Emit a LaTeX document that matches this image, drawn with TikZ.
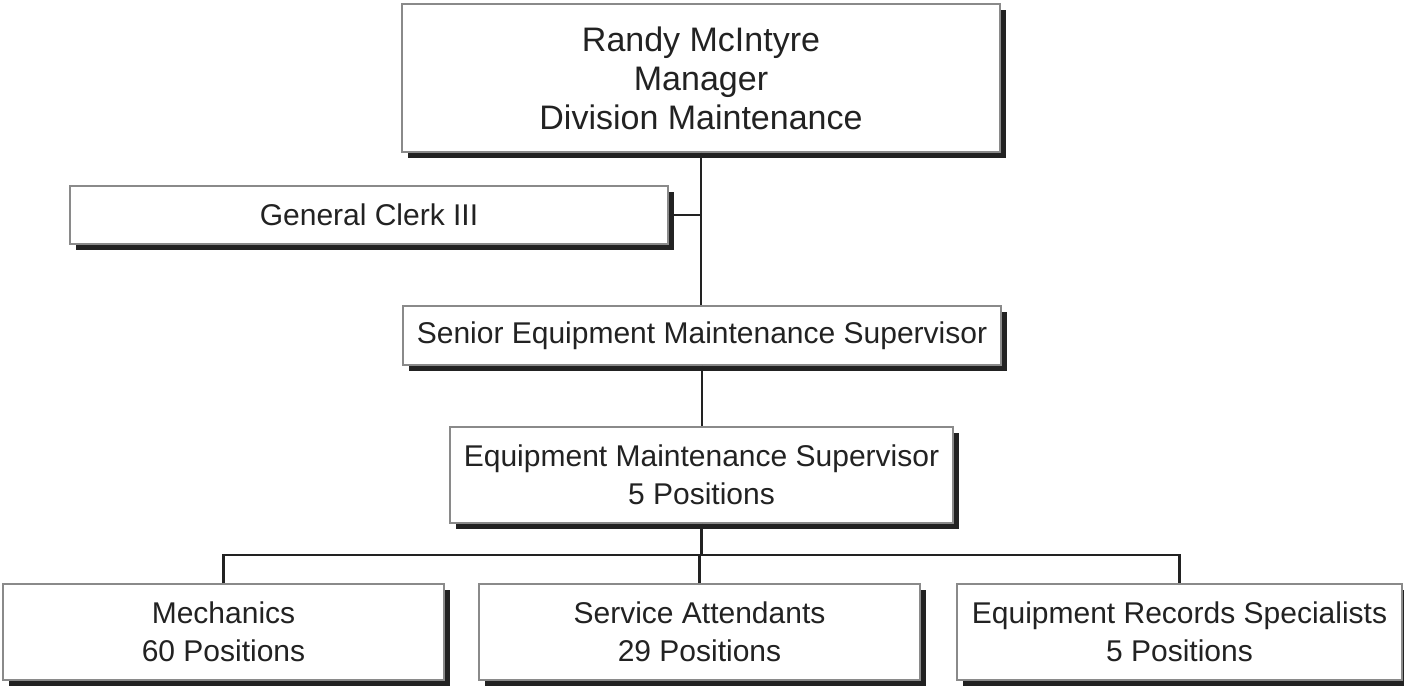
\documentclass[tikz,border=0pt]{standalone}
\usepackage{fontspec}
\setmainfont{Liberation Sans}
\usetikzlibrary{shadows}
\definecolor{inkc}{HTML}{222222}
\definecolor{edgec}{HTML}{8A8A8A}
\begin{document}
\begin{tikzpicture}[x=1pt,y=-1pt,
  orgbox/.style={draw=edgec, line width=1.2pt, fill=white, inner sep=0pt,
    align=center, text=inkc,
    drop shadow={fill=inkc, opacity=1, shadow xshift=6pt, shadow yshift=-6pt},
    font=\fontsize{30}{38.5}\selectfont},
  link/.style={draw=inkc, line width=2.5pt}]
\useasboundingbox (0,0) rectangle (1404,685);
\node[orgbox, minimum width=598pt, minimum height=148pt,
  font=\fontsize{34}{39}\selectfont] (top) at (701,78)
  {Randy McIntyre\\Manager\\Division Maintenance};
\node[orgbox, minimum width=598pt, minimum height=58pt] (clerk) at (369,215)
  {General Clerk III};
\node[orgbox, minimum width=598pt, minimum height=59pt] (sems) at (702,335.5)
  {Senior Equipment Maintenance Supervisor};
\node[orgbox, minimum width=503pt, minimum height=96pt] (ems) at (701.5,475)
  {Equipment Maintenance Supervisor\\5 Positions};
\node[orgbox, minimum width=441pt, minimum height=96pt] (mech) at (223.5,632)
  {Mechanics\\60 Positions};
\node[orgbox, minimum width=441pt, minimum height=96pt] (sa) at (699.5,632)
  {Service Attendants\\29 Positions};
\node[orgbox, minimum width=445pt, minimum height=96pt] (ers) at (1179.5,632)
  {Equipment Records Specialists\\5 Positions};
\coordinate (bus) at (701.5,555);
\path[link] (top.south) -- (top.south |- sems.north);
\path[link] (clerk.east) -- (top.south |- clerk.east);
\path[link] (sems.south) -- (sems.south |- ems.north);
\path[link] (ems.south) -- (bus);
\path[link] (mech.north) |- (bus) -| (ers.north);
\path[link] (sa.north) -- (sa.north |- bus);
\end{tikzpicture}
\end{document}
